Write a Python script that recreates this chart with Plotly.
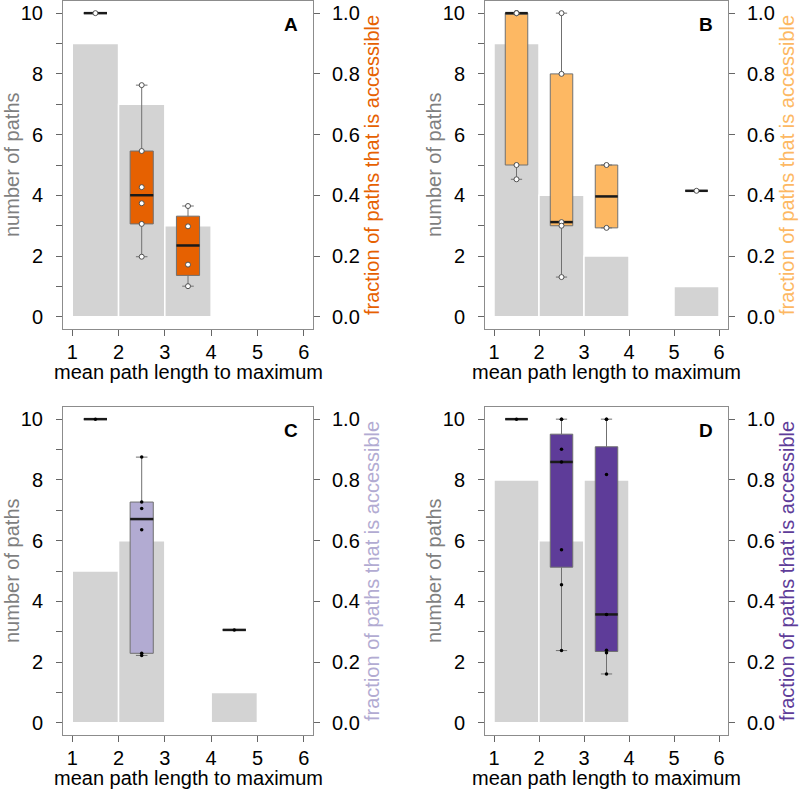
import math
import plotly.graph_objects as go

FONT = "Liberation Sans, Arial, Helvetica, sans-serif"

# ---------------- data ----------------
panel_names = ["A", "B", "C", "D"]
panel_colors = ["#e66101", "#fdb863", "#b2abd2", "#5e3c99"]

# histogram of number of paths: left bin edges and counts
hist_left_A = [1, 2, 3]
hist_count_A = [9, 7, 3]
hist_left_B = [1, 2, 3, 5]
hist_count_B = [9, 4, 2, 1]
hist_left_C = [1, 2, 4]
hist_count_C = [5, 6, 1]
hist_left_D = [1, 2, 3]
hist_count_D = [8, 6, 8]

# fraction of paths that is accessible (box plot groups)
box_x_A = [1.5, 2.5, 3.5]
box_pts_A = [[1.0],
             [0.763, 0.546, 0.427, 0.374, 0.306, 0.198],
             [0.365, 0.298, 0.172, 0.101]]
box_x_B = [1.5, 2.5, 3.5, 5.5]
box_pts_B = [[1.0, 1.0, 1.0, 0.5, 0.453],
             [1.0, 0.8, 0.312, 0.3, 0.131],
             [0.5, 0.293],
             [0.415]]
box_x_C = [1.5, 2.5, 4.5]
box_pts_C = [[1.0],
             [0.875, 0.727, 0.706, 0.636, 0.229, 0.222],
             [0.306]]
box_x_D = [1.5, 2.5, 3.5]
box_pts_D = [[1.0],
             [1.0, 1.0, 0.901, 0.859, 0.570, 0.455, 0.238],
             [1.0, 1.0, 0.818, 0.357, 0.239, 0.231, 0.161]]

x_ticks = [1, 2, 3, 4, 5, 6]
left_ticks = list(range(0, 11))
right_ticks = [0.0, 0.2, 0.4, 0.6, 0.8, 1.0]

x_title = "mean path length to maximum"
left_title = "number of paths"
right_title = "fraction of paths that is accessible"

hist_left = [hist_left_A, hist_left_B, hist_left_C, hist_left_D]
hist_count = [hist_count_A, hist_count_B, hist_count_C, hist_count_D]
box_x = [box_x_A, box_x_B, box_x_C, box_x_D]
box_pts = [box_pts_A, box_pts_B, box_pts_C, box_pts_D]


# ---------------- stats (R boxplot style) ----------------
def fivenum(v):
    x = sorted(v)
    n = len(x)
    n4 = math.floor((n + 3) / 2) / 2
    d = [1, n4, (n + 1) / 2, n + 1 - n4, n]
    return [0.5 * (x[math.floor(k) - 1] + x[math.ceil(k) - 1]) for k in d]


def box_stats(v):
    f = fivenum(v)
    iqr = f[3] - f[1]
    lo = min(p for p in v if p >= f[1] - 1.5 * iqr)
    hi = max(p for p in v if p <= f[3] + 1.5 * iqr)
    return lo, f[1], f[2], f[3], hi


# ---------------- layout geometry (page pixels) ----------------
W, H = 800, 789


def fx(X):
    return X / W


def fy(Y):
    return 1 - Y / H


px_x = [(63, 313), (485, 728), (63, 313), (485, 728)]
px_y = [(1, 329), (1, 329), (407, 735), (407, 735)]
BOX_W = 0.5
Y_LO, Y_HI = -0.4, 10.4

fig = go.Figure()
layout = dict(width=W, height=H, margin=dict(l=0, r=0, t=0, b=0),
              paper_bgcolor="white", plot_bgcolor="white",
              showlegend=False, boxmode="overlay", barmode="overlay",
              font=dict(family=FONT, size=20, color="black"))
annotations = []

for i in range(4):
    k = i + 1
    xa = "x" if k == 1 else f"x{k}"
    yl = "y" if k == 1 else f"y{2 * k - 1}"
    yr = f"y{2 * k}"
    col = panel_colors[i]
    open_pts = i < 2

    fig.add_trace(go.Bar(x=hist_left[i], y=hist_count[i], offset=0, width=1,
                         marker=dict(color="#d3d3d3", line=dict(color="white", width=1.5)),
                         xaxis=xa, yaxis=yl, hoverinfo="skip"))

    stats = [box_stats(v) for v in box_pts[i]]
    fig.add_trace(go.Box(x=box_x[i],
                         lowerfence=[s[0] for s in stats], q1=[s[1] for s in stats],
                         median=[s[2] for s in stats], q3=[s[3] for s in stats],
                         upperfence=[s[4] for s in stats],
                         width=BOX_W, fillcolor=col,
                         line=dict(color="#707070", width=1),
                         boxpoints=False, xaxis=xa, yaxis=yr, hoverinfo="skip"))

    mx, my = [], []
    for c, s in zip(box_x[i], stats):
        mx += [c - BOX_W / 2, c + BOX_W / 2, None]
        my += [s[2], s[2], None]
    fig.add_trace(go.Scatter(x=mx, y=my, mode="lines",
                             line=dict(color="#1a1a1a", width=2.5),
                             xaxis=xa, yaxis=yr, hoverinfo="skip"))

    px_, py_ = [], []
    for c, v in zip(box_x[i], box_pts[i]):
        px_ += [c] * len(v)
        py_ += v
    if open_pts:
        mk = dict(symbol="circle", size=5, color="white",
                  line=dict(color="#505050", width=1))
    else:
        mk = dict(symbol="circle", size=3.5, color="black")
    fig.add_trace(go.Scatter(x=px_, y=py_, mode="markers", marker=mk,
                             xaxis=xa, yaxis=yr, hoverinfo="skip"))

    x0, x1 = px_x[i]
    yt, yb = px_y[i]
    xdom = [fx(x0), fx(x1)]
    ydom = [fy(yb), fy(yt)]

    axkey = "xaxis" if k == 1 else f"xaxis{k}"
    ylkey = "yaxis" if k == 1 else f"yaxis{2 * k - 1}"
    yrkey = f"yaxis{2 * k}"

    layout[axkey] = dict(domain=xdom, range=[0.8, 6.2], anchor=yl,
                         tickvals=x_ticks, ticks="outside", ticklen=6,
                         tickcolor="#666666", tickwidth=1,
                         showline=True, mirror=True, linecolor="#8c8c8c", linewidth=1,
                         showgrid=False, zeroline=False,
                         ticklabelstandoff=-1, tickfont=dict(size=20))
    layout[ylkey] = dict(domain=ydom, range=[Y_LO, Y_HI], anchor=xa,
                         tickvals=left_ticks,
                         ticktext=[str(t) if t % 2 == 0 else "" for t in left_ticks],
                         ticks="outside", ticklen=6, tickcolor="#666666", tickwidth=1,
                         showline=True, mirror=True, linecolor="#8c8c8c", linewidth=1,
                         showgrid=False, zeroline=False,
                         ticklabelstandoff=9, tickfont=dict(size=20))
    layout[yrkey] = dict(overlaying=yl, side="right", anchor=xa,
                         range=[Y_LO / 10.0, Y_HI / 10.0], tickvals=right_ticks,
                         ticktext=[f"{t:.1f}" for t in right_ticks],
                         ticks="outside", ticklen=6, tickcolor="#666666", tickwidth=1,
                         showline=False, showgrid=False, zeroline=False,
                         ticklabelstandoff=8, tickfont=dict(size=20))

    # axis titles
    annotations.append(dict(x=fx((x0 + x1) / 2), y=fy(yb + 43), xref="paper", yref="paper",
                            text=x_title, showarrow=False, xanchor="center", yanchor="middle",
                            font=dict(size=20, color="black")))
    annotations.append(dict(x=fx(x0 - 51), y=fy((yt + yb) / 2), xref="paper", yref="paper",
                            text=left_title, showarrow=False, textangle=-90,
                            xanchor="center", yanchor="middle",
                            font=dict(size=20, color="#7f7f7f")))
    annotations.append(dict(x=fx(x1 + 59), y=fy((yt + yb) / 2), xref="paper", yref="paper",
                            text=right_title, showarrow=False, textangle=-90,
                            xanchor="center", yanchor="middle",
                            font=dict(size=20, color=col)))
    annotations.append(dict(x=fx(x1 - 22), y=fy(yt + 23), xref="paper", yref="paper",
                            text=f"<b>{panel_names[i]}</b>", showarrow=False,
                            xanchor="center", yanchor="middle",
                            font=dict(size=19, color="black")))

layout["annotations"] = annotations
fig.update_layout(**layout)
fig.write_html("out.html",
               config={"displayModeBar": False, "staticPlot": True},
               post_script="document.body.style.margin='0px';"
                           "document.body.style.overflow='hidden';")
